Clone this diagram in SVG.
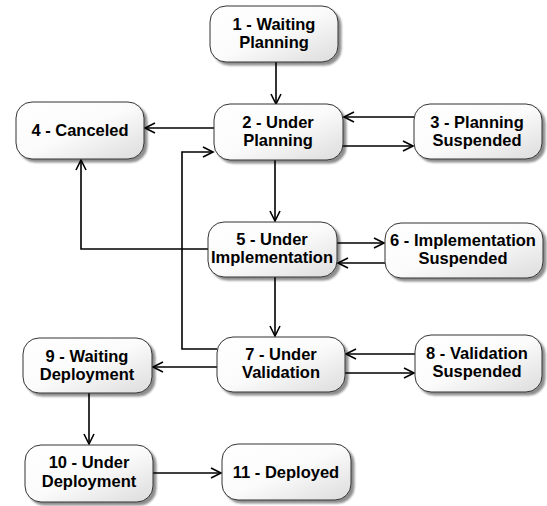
<svg xmlns="http://www.w3.org/2000/svg" width="547" height="506" viewBox="0 0 547 506">
<defs>
<linearGradient id="g" x1="0" y1="0" x2="1" y2="1">
<stop offset="0" stop-color="#ffffff"/>
<stop offset="0.5" stop-color="#fbfbfb"/>
<stop offset="1" stop-color="#dcdcdc"/>
</linearGradient>
<filter id="sh" x="-10%" y="-10%" width="125%" height="130%">
<feGaussianBlur in="SourceAlpha" stdDeviation="1.2"/>
<feOffset dx="3" dy="3" result="b"/>
<feComponentTransfer><feFuncA type="linear" slope="0.45"/></feComponentTransfer>
<feMerge><feMergeNode/><feMergeNode in="SourceGraphic"/></feMerge>
</filter>
<marker id="a" markerUnits="userSpaceOnUse" markerWidth="12" markerHeight="12" refX="10" refY="5.5" orient="auto" overflow="visible">
<path d="M0,0.5 L10,5.5 L0,10.5" fill="none" stroke="#000" stroke-width="1.6"/>
</marker>
</defs>
<style>
.n rect{fill:url(#g);stroke:#333;stroke-width:1;filter:url(#sh)}
.n text{font-family:"Liberation Sans",Arial,sans-serif;font-weight:bold;font-size:16.5px;fill:#000;text-anchor:middle}
.c path{fill:none;stroke:#000;stroke-width:1.6;marker-end:url(#a)}
</style>
<rect width="547" height="506" fill="#fff"/>
<g class="c">
<path d="M276,62 V104"/>
<path d="M214,128 H145"/>
<path d="M414,117 H344"/>
<path d="M343,146 H413"/>
<path d="M275,160 V221"/>
<path d="M208,249 H81 V160"/>
<path d="M217,349 H182 V152 H213"/>
<path d="M337,243 H384"/>
<path d="M385,263 H338"/>
<path d="M275,277 V336"/>
<path d="M415,354 H346"/>
<path d="M345,373 H414"/>
<path d="M217,367 H153"/>
<path d="M89,393 V444"/>
<path d="M153,473 H221"/>
</g>
<g id="n1" class="n"><rect x="210" y="6" width="128" height="56" rx="16"/><text x="274" y="30">1 - Waiting</text><text x="274" y="48">Planning</text></g>
<g id="n2" class="n"><rect x="214" y="104" width="129" height="56" rx="16"/><text x="278" y="128">2 - Under</text><text x="278" y="146">Planning</text></g>
<g id="n3" class="n"><rect x="414" y="104" width="128" height="55" rx="16"/><text x="477" y="128">3 - Planning</text><text x="477" y="146">Suspended</text></g>
<g id="n4" class="n"><rect x="16" y="102" width="128" height="57" rx="16"/><text x="80" y="136">4 - Canceled</text></g>
<g id="n5" class="n"><rect x="208" y="222" width="129" height="55" rx="16"/><text x="272" y="245">5 - Under</text><text x="272" y="263">Implementation</text></g>
<g id="n6" class="n"><rect x="385" y="223" width="158" height="55" rx="16"/><text x="463" y="246">6 - Implementation</text><text x="463" y="264">Suspended</text></g>
<g id="n7" class="n"><rect x="217" y="337" width="128" height="55" rx="16"/><text x="281" y="360">7 - Under</text><text x="281" y="378">Validation</text></g>
<g id="n8" class="n"><rect x="415" y="335" width="127" height="57" rx="16"/><text x="477" y="359">8 - Validation</text><text x="477" y="377">Suspended</text></g>
<g id="n9" class="n"><rect x="23" y="338" width="129" height="55" rx="16"/><text x="87" y="362">9 - Waiting</text><text x="87" y="380">Deployment</text></g>
<g id="n10" class="n"><rect x="25" y="445" width="128" height="57" rx="16"/><text x="89" y="468">10 - Under</text><text x="89" y="487">Deployment</text></g>
<g id="n11" class="n"><rect x="222" y="444" width="129" height="56" rx="16"/><text x="286" y="478">11 - Deployed</text></g>
</svg>
